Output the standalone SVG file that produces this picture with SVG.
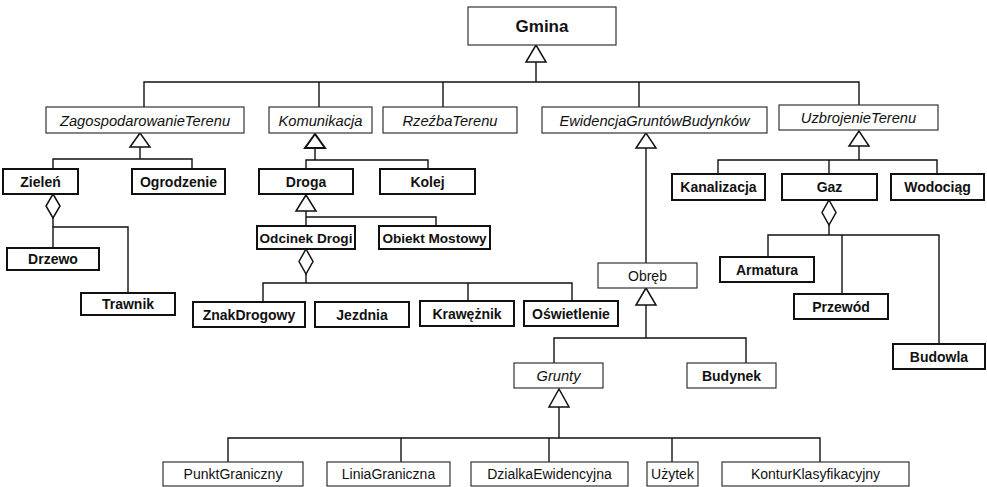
<svg xmlns="http://www.w3.org/2000/svg" width="987" height="487" viewBox="0 0 987 487">
  <style>
    .bg { fill: #ffffff; }
    .box-thin { fill: #ffffff; stroke: #333333; stroke-width: 1.2; }
    .box-thick { fill: #ffffff; stroke: #111111; stroke-width: 2; }
    .lbl { font-family: "Liberation Sans", Arial, Helvetica, sans-serif; font-size: 14px; fill: #111111; text-anchor: middle; }
    .b { font-weight: bold; }
    .i { font-style: italic; font-size: 14.7px; }
    .tight { font-size: 13.6px; }
    .title { font-size: 17px; font-weight: bold; }
    .wire { fill: none; stroke: #111111; stroke-width: 1.4; }
    .gen { fill: #ffffff; stroke: #111111; stroke-width: 1.5; stroke-linejoin: miter; }
    .gen-bold { fill: #ffffff; stroke: #111111; stroke-width: 2; stroke-linejoin: miter; }
    .agg { fill: #ffffff; stroke: #111111; stroke-width: 1.5; }
  </style>
  <rect class="bg" x="0" y="0" width="987" height="487"/>

  <!-- connectors: generalisation trees and aggregations -->
  <g id="connectors">
    <!-- Gmina -->
    <polyline class="wire" points="536,62 536,82"/>
    <polyline class="wire" points="144,107 144,82 859,82 859,105"/>
    <polyline class="wire" points="319,82 319,107"/>
    <polyline class="wire" points="443,82 443,107"/>
    <polyline class="wire" points="639,82 639,107"/>
    <polygon class="gen" points="536,45 526,62 546,62"/>

    <!-- ZagospodarowanieTerenu -->
    <polyline class="wire" points="140,147 140,159"/>
    <polyline class="wire" points="53,169 53,159 192,159 192,169"/>
    <polygon class="gen" points="140,133 130,147 150,147"/>

    <!-- Zieleń aggregation -->
    <polyline class="wire" points="53,218 53,227"/>
    <polyline class="wire" points="53,248 53,227 128,227 128,293"/>
    <polygon class="agg" points="53,194 60,206 53,218 46,206"/>

    <!-- Komunikacja -->
    <polyline class="wire" points="315,148 315,160"/>
    <polyline class="wire" points="306,169 306,160 428,160 428,169"/>
    <polygon class="gen-bold" points="315,134 305,148 325,148"/>

    <!-- Droga -->
    <polyline class="wire" points="306,211 306,226"/>
    <polyline class="wire" points="306,217 436,217 436,226"/>
    <polygon class="gen" points="306,195 296,211 316,211"/>

    <!-- Odcinek Drogi aggregation -->
    <polyline class="wire" points="306,274 306,283"/>
    <polyline class="wire" points="263,302 263,283 572,283 572,301"/>
    <polyline class="wire" points="468,283 468,301"/>
    <polygon class="agg" points="306,249 313,261.5 306,274 299,261.5"/>

    <!-- EwidencjaGruntówBudynków -->
    <polyline class="wire" points="646,148 646,263"/>
    <polygon class="gen" points="646,133 636,148 656,148"/>

    <!-- Obręb -->
    <polyline class="wire" points="646,305 646,338"/>
    <polyline class="wire" points="554,363 554,338 746,338 746,363"/>
    <polygon class="gen" points="646,288 636,305 656,305"/>

    <!-- Grunty -->
    <polyline class="wire" points="559,407 559,438"/>
    <polyline class="wire" points="228,462 228,438 820,438 820,462"/>
    <polyline class="wire" points="401,438 401,462"/>
    <polyline class="wire" points="549,438 549,462"/>
    <polyline class="wire" points="672,438 672,462"/>
    <polygon class="gen" points="559,389 549,407 569,407"/>

    <!-- UzbrojenieTerenu -->
    <polyline class="wire" points="859,146 859,160"/>
    <polyline class="wire" points="718,174 718,160 937,160 937,174"/>
    <polyline class="wire" points="829,160 829,174"/>
    <polygon class="gen" points="859,131 849,146 869,146"/>

    <!-- Gaz aggregation -->
    <polyline class="wire" points="829,225 829,235"/>
    <polyline class="wire" points="768,257 768,235 939,235 939,344"/>
    <polyline class="wire" points="842,235 842,294"/>
    <polygon class="agg" points="829,200 836,212.5 829,225 822,212.5"/>
  </g>

  <!-- classes -->
  <g id="gmina"><rect class="box-thin" x="468" y="7" width="148" height="38"/><text class="lbl title" x="542" y="32">Gmina</text></g>

  <g id="zagospodarowanie-terenu"><rect class="box-thin" x="46" y="107" width="198" height="26"/><text class="lbl i" x="145" y="125.5">ZagospodarowanieTerenu</text></g>
  <g id="komunikacja"><rect class="box-thin" x="269" y="107" width="103" height="26"/><text class="lbl i" x="320.5" y="125.5">Komunikacja</text></g>
  <g id="rzezba-terenu"><rect class="box-thin" x="383" y="107" width="134" height="26"/><text class="lbl i" x="450" y="125.5">RzeźbaTerenu</text></g>
  <g id="ewidencja"><rect class="box-thin" x="542" y="107" width="225" height="26"/><text class="lbl i" x="654.5" y="125.5">EwidencjaGruntówBudynków</text></g>
  <g id="uzbrojenie-terenu"><rect class="box-thin" x="779" y="105" width="159" height="25"/><text class="lbl i" x="858.5" y="123">UzbrojenieTerenu</text></g>

  <g id="zielen"><rect class="box-thick" x="3" y="169" width="75" height="25"/><text class="lbl b" x="40.5" y="186.5">Zieleń</text></g>
  <g id="ogrodzenie"><rect class="box-thick" x="132" y="169" width="93" height="25"/><text class="lbl b" x="178.5" y="186.5">Ogrodzenie</text></g>
  <g id="drzewo"><rect class="box-thick" x="7" y="248" width="92" height="22"/><text class="lbl b" x="53" y="264">Drzewo</text></g>
  <g id="trawnik"><rect class="box-thick" x="81" y="293" width="94" height="22"/><text class="lbl b" x="128" y="309">Trawnik</text></g>

  <g id="droga"><rect class="box-thick" x="259" y="169" width="94" height="25"/><text class="lbl b" x="306" y="186.5">Droga</text></g>
  <g id="kolej"><rect class="box-thick" x="380" y="169" width="95" height="25"/><text class="lbl b" x="427.5" y="186.5">Kolej</text></g>
  <g id="odcinek-drogi"><rect class="box-thick" x="257" y="226" width="98" height="23"/><text class="lbl b tight" x="306" y="242.5">Odcinek Drogi</text></g>
  <g id="obiekt-mostowy"><rect class="box-thick" x="379" y="226" width="111" height="23"/><text class="lbl b tight" x="434.5" y="242.5">Obiekt Mostowy</text></g>
  <g id="znak-drogowy"><rect class="box-thick" x="193" y="302" width="112" height="25"/><text class="lbl b" x="249" y="319.5">ZnakDrogowy</text></g>
  <g id="jezdnia"><rect class="box-thick" x="315" y="302" width="94" height="25"/><text class="lbl b" x="362" y="319.5">Jezdnia</text></g>
  <g id="kraweznik"><rect class="box-thick" x="420" y="301" width="94" height="25"/><text class="lbl b" x="467" y="318.5">Krawężnik</text></g>
  <g id="oswietlenie"><rect class="box-thick" x="524" y="301" width="94" height="25"/><text class="lbl b" x="571" y="318.5">Oświetlenie</text></g>

  <g id="obreb"><rect class="box-thin" x="598" y="263" width="99" height="25"/><text class="lbl" x="647.5" y="280.5">Obręb</text></g>
  <g id="grunty"><rect class="box-thin" x="514" y="363" width="89" height="25"/><text class="lbl i" x="558.5" y="381">Grunty</text></g>
  <g id="budynek"><rect class="box-thin" x="687" y="363" width="89" height="25"/><text class="lbl b" x="731.5" y="380.5">Budynek</text></g>

  <g id="punkt-graniczny"><rect class="box-thin" x="163" y="462" width="140" height="24"/><text class="lbl" x="233" y="479">PunktGraniczny</text></g>
  <g id="linia-graniczna"><rect class="box-thin" x="327" y="462" width="123" height="24"/><text class="lbl" x="388.5" y="479">LiniaGraniczna</text></g>
  <g id="dzialka-ewidencyjna"><rect class="box-thin" x="471" y="462" width="157" height="24"/><text class="lbl" x="549.5" y="479">DzialkaEwidencyjna</text></g>
  <g id="uzytek"><rect class="box-thin" x="647" y="462" width="51" height="24"/><text class="lbl" x="672.5" y="479">Użytek</text></g>
  <g id="kontur-klasyfikacyjny"><rect class="box-thin" x="722" y="462" width="187" height="24"/><text class="lbl" x="815.5" y="479">KonturKlasyfikacyjny</text></g>

  <g id="kanalizacja"><rect class="box-thick" x="672" y="174" width="93" height="26"/><text class="lbl b" x="718.5" y="192">Kanalizacja</text></g>
  <g id="gaz"><rect class="box-thick" x="782" y="174" width="95" height="26"/><text class="lbl b" x="829.5" y="192">Gaz</text></g>
  <g id="wodociag"><rect class="box-thick" x="891" y="174" width="93" height="26"/><text class="lbl b" x="937.5" y="192">Wodociąg</text></g>
  <g id="armatura"><rect class="box-thick" x="720" y="257" width="94" height="25"/><text class="lbl b" x="767" y="274.5">Armatura</text></g>
  <g id="przewod"><rect class="box-thick" x="794" y="294" width="94" height="25"/><text class="lbl b" x="841" y="311.5">Przewód</text></g>
  <g id="budowla"><rect class="box-thick" x="893" y="344" width="92" height="25"/><text class="lbl b" x="939" y="361.5">Budowla</text></g>
</svg>
